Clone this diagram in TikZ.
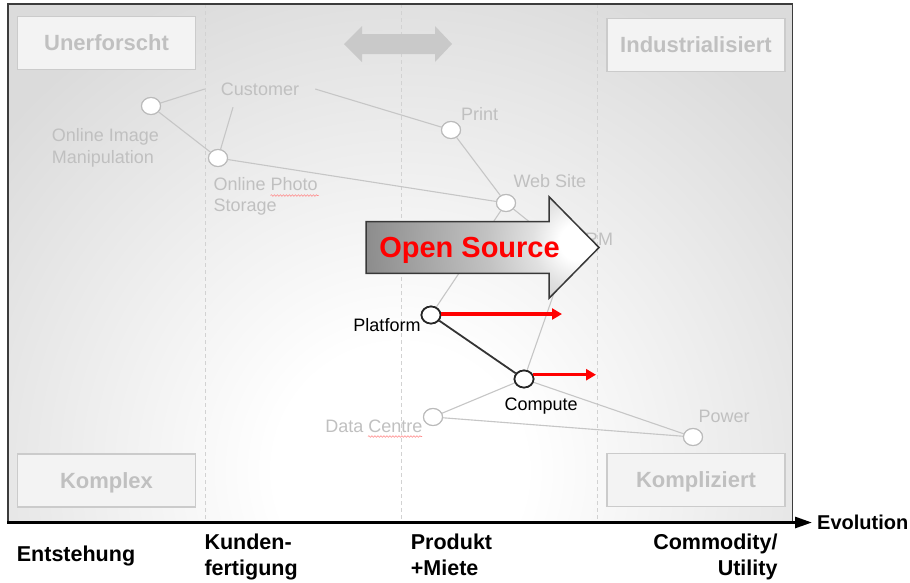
\documentclass[tikz,border=0pt]{standalone}
\usepackage{fontspec}
\setmainfont{Liberation Sans}
\usetikzlibrary{arrows.meta,shapes.geometric,decorations.pathmorphing}

\definecolor{lightline}{HTML}{C6C6C6}
\definecolor{ghosttext}{HTML}{C0C0C0}
\definecolor{boxfill}{HTML}{F3F3F3}
\definecolor{boxline}{HTML}{CBCBCB}
\definecolor{frameline}{HTML}{3C3C3C}
\definecolor{gridline}{HTML}{D2D2D2}
\definecolor{twinarrow}{HTML}{C9C9C9}

% soft paper background: white centre, light grey edges
\pgfdeclareradialshading{paper}{\pgfpoint{0bp}{0bp}}{color(0bp)=(white); color(6bp)=(white); color(25bp)=(black!14); color(50bp)=(black!14)}
% shine of the big arrow
\pgfdeclareradialshading{glow}{\pgfpoint{0bp}{0bp}}{color(0bp)=(white); color(2bp)=(white); color(5bp)=(black!12); color(10bp)=(black!24); color(25bp)=(black!48); color(50bp)=(black!48)}

\begin{document}
\begin{tikzpicture}[x=1pt,y=-1pt,
  ghost/.style={font=\fontsize{18}{21}\selectfont, text=ghosttext, inner sep=0pt},
  dark/.style={font=\fontsize{18}{21}\selectfont, text=black, inner sep=0pt},
  stage/.style={font=\bfseries\fontsize{21.5}{25}\selectfont, text=black, inner sep=0pt},
  quad/.style={draw=boxline, fill=boxfill, line width=1.2pt, minimum width=178pt,
    minimum height=53pt, inner sep=0pt, font=\bfseries\fontsize{22}{26}\selectfont,
    text=ghosttext, text height=15.75pt, text depth=0pt},
  dot/.style={ellipse, draw=black!27, fill=white, line width=1.1pt,
    minimum width=19pt, minimum height=17pt, inner sep=0pt},
  keydot/.style={dot, draw=black!85, line width=1.7pt},
  link/.style={draw=lightline, line width=1.1pt},
  keylink/.style={draw=black!80, line width=1.8pt},
  redarrow/.style={draw=red, line width=3.1pt, -{Triangle[length=10pt,width=11pt]}},
  squiggle/.style={draw=red!45, line width=0.6pt, decorate,
    decoration={snake, amplitude=0.8pt, segment length=3pt}},
  grid/.style={draw=gridline, line width=0.8pt, dash pattern=on 4pt off 3pt}
]
\useasboundingbox (0,0) rectangle (910,582);

% background
\begin{scope}
  \clip (8,4) rectangle (792.5,522.5);
  \fill[black!14] (8,4) rectangle (792.5,522.5);
  \shade[shading=paper] (400,470) circle (520);
\end{scope}

% stage separators
\draw[grid] (205,4) -- (205,522);
\draw[grid] (401,4) -- (401,522);
\draw[grid] (597,4) -- (597,522);

% corner boxes
\node[quad] (unexp) at (106.5,43) {Unerforscht};
\node[quad] (indus) at (696,45) {Industrialisiert};
\node[quad] (cplx)  at (106.5,480.5) {Komplex};
\node[quad] (cpld)  at (696,480) {Kompliziert};

% two-headed arrow
\fill[twinarrow] (344,44) -- (362,26) -- (362,34) -- (435,34) -- (435,26) -- (452,44)
  -- (435,62) -- (435,54) -- (362,54) -- (362,62) -- cycle;

% components
\node[ghost, minimum width=110pt, minimum height=36pt] (cust) at (260,89) {Customer};
\node[dot] (oim)   at (151,106) {};
\node[dot] (ops)   at (218,158) {};
\node[dot] (print) at (451,130) {};
\node[dot] (web)   at (506,203) {};
\node[dot] (crm)   at (568,253) {};
\node[keydot] (plat) at (431,315) {};
\node[keydot] (comp) at (524,379) {};
\node[dot] (dc)    at (433,417) {};
\node[dot] (power) at (693,437) {};

% value chain links
\draw[link] (cust.west) -- (oim);
\draw[link] (cust.214.7) -- (ops);
\draw[link] (cust.east) -- (print);
\draw[link] (oim) -- (ops);
\draw[link] (ops) -- (web);
\draw[link] (print) -- (web);
\draw[link] (web) -- (plat);
\draw[link] (web) -- (crm);
\draw[link] (crm) -- (comp);
\draw[link] (comp) -- (dc);
\draw[link] (comp) -- (power);
\draw[link] (dc) -- (power);
\draw[keylink] (plat) -- (comp);
% circles again, above the links
\node[dot] at (oim) {};
\node[dot] at (ops) {};
\node[dot] at (print) {};
\node[dot] at (web) {};
\node[dot] at (crm) {};
\node[dot] at (dc) {};
\node[dot] at (power) {};
\node[keydot] at (plat) {};
\node[keydot] at (comp) {};

% labels
\node[ghost, anchor=base west] (oimA) at (51.7,141.5) {Online Image};
\node[ghost, anchor=base west] (oimB) at (51.7,163.5) {Manipulation};
\node[ghost, anchor=base west] (opsA) at (213.3,190.7) {Online Photo};
\node[ghost, anchor=base west] (opsB) at (213.3,211.7) {Storage};
\node[ghost, anchor=base west] (printL) at (461,120) {Print};
\node[ghost, anchor=base west] (webL) at (513.3,187.7) {Web Site};
\node[ghost, anchor=base west] (crmL) at (572,245) {CRM};
\node[dark, anchor=base east] (platL) at (420.7,331.7) {Platform};
\node[dark, anchor=base west] (compL) at (504.3,410) {Compute};
\node[ghost, anchor=base east] (dcL) at (422.7,432.7) {Data Centre};
\node[ghost, anchor=base west] (powerL) at (698.3,422.7) {Power};

% spell-check marks
\draw[squiggle] (270.5,195.5) -- (318.5,195.5);
\draw[squiggle] (368,436.5) -- (422,436.5);

% movement of platform and compute
\coordinate (platTip) at (562,314);
\coordinate (compTip) at (596,375);
\draw[redarrow] (plat.east) ++(0,-1) -- (platTip);
\draw[redarrow] (comp.25) -- (comp.25 -| compTip);

% open source arrow
\def\ospath{(366,221.7) -- (549,221.7) -- (549,196.7) -- (599,247.5) -- (549,298.3) -- (549,273.3) -- (366,273.3) -- cycle}
\begin{scope}
  \clip \ospath;
  \shade[shading=glow] (578,242) circle (230);
\end{scope}
\draw[draw=black!78, line width=1.5pt, line join=miter] \ospath;
\node[font=\bfseries\fontsize{29}{34}\selectfont, text=red, inner sep=0pt, anchor=base]
  (osText) at (469.5,257.3) {Open Source};

% frame and evolution axis
\draw[frameline, line width=1.6pt] (8,522.5) -- (8,4) -- (792.5,4) -- (792.5,522.5);
\node[font=\bfseries\fontsize{20}{24}\selectfont, inner sep=0pt, anchor=base west] (evo) at (817,529) {Evolution};
\coordinate (origin) at (7.2,522.5);
\draw[line width=2.8pt, -{Triangle[length=17pt,width=11pt]}, shorten >=5pt]
  (origin) -- (origin -| evo.west);

% stages of evolution
\node[stage, anchor=base west] (st1) at (16.7,561.7) {Entstehung};
\node[stage, anchor=base west] (st2a) at (204.3,549.3) {Kunden-};
\node[stage, anchor=base west] (st2b) at (204.3,575) {fertigung};
\node[stage, anchor=base west] (st3a) at (410.7,549.3) {Produkt};
\node[stage, anchor=base west] (st3b) at (410.7,575) {+Miete};
\node[stage, anchor=base east] (st4a) at (777.7,549.3) {Commodity/};
\node[stage, anchor=base east] (st4b) at (777.7,575.7) {Utility};
\end{tikzpicture}
\end{document}
